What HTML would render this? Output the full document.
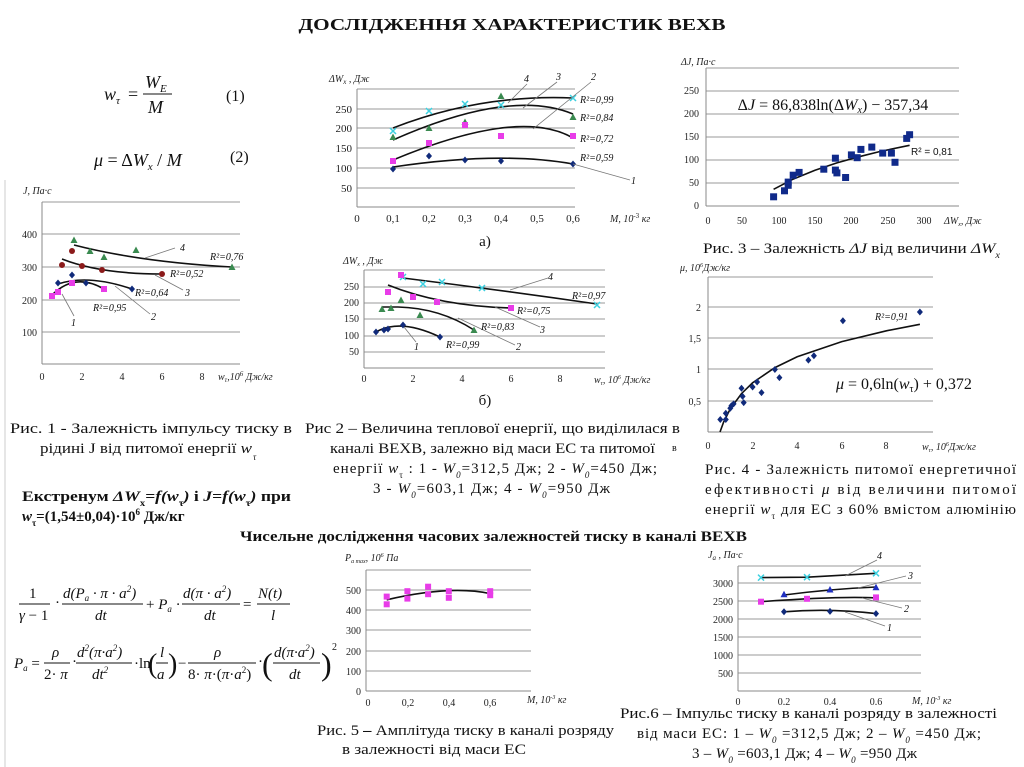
<!DOCTYPE html>
<html><head><meta charset="utf-8"><style>
html,body{margin:0;padding:0;background:#fff}
svg{display:block}
text{font-family:"Liberation Serif",serif;fill:#111}
.t{font-size:11px;fill:#222}
.tk{font-size:10px;fill:#222}
.ax{font-size:10px;font-style:italic;fill:#222}
.cap{font-size:15px}
.g{stroke:#999;stroke-width:1;fill:none}
.a{stroke:#888;stroke-width:1;fill:none}
.c{stroke:#111;stroke-width:1.6;fill:none}
.l{stroke:#777;stroke-width:0.8;fill:none}
.r{font-size:10px;font-style:italic}
</style></head><body>
<svg width="1024" height="767" viewBox="0 0 1024 767" xmlns="http://www.w3.org/2000/svg">
<defs>
<rect id="sq" x="-3" y="-3" width="6" height="6" fill="#e83ce8"/>
<path id="dm" d="M0,-3.5L3,0L0,3.5L-3,0Z" fill="#102a7a"/>
<path id="tr" d="M0,-3.5L3.5,3L-3.5,3Z" fill="#3a8a50"/>
<path id="trb" d="M0,-3.5L3.5,3L-3.5,3Z" fill="#1f2fc0"/>
<circle id="ci" r="3" fill="#8b1a1a"/>
<path id="xx" d="M-3,-3L3,3M3,-3L-3,3" stroke="#3cd0e0" stroke-width="1.5"/>
<rect id="bs" x="-3.5" y="-3.5" width="7" height="7" fill="#102a8a"/>
</defs>
<line x1="5" y1="180" x2="5" y2="767" stroke="#ccc"/>

<text x="512" y="30" text-anchor="middle" font-weight="bold" font-size="17" textLength="427" lengthAdjust="spacingAndGlyphs">ДОСЛІДЖЕННЯ ХАРАКТЕРИСТИК ВЕХВ</text>

<!-- formulas 1,2 -->
<text x="104" y="100" font-size="18" font-style="italic">w<tspan font-size="11" dy="4">τ</tspan></text>
<text x="128" y="100" font-size="18">=</text>
<text x="145" y="88" font-size="18" font-style="italic">W<tspan font-size="11" dy="4">E</tspan></text>
<line x1="143" y1="94" x2="172" y2="94" stroke="#111" stroke-width="1"/>
<text x="148" y="113" font-size="18" font-style="italic">M</text>
<text x="226" y="101" font-size="16">(1)</text>
<text x="94" y="166" font-size="18"><tspan font-style="italic">μ</tspan>  = Δ<tspan font-style="italic">W</tspan><tspan font-size="11" dy="4" font-style="italic">x</tspan><tspan dy="-4"> / </tspan><tspan font-style="italic">M</tspan></text>
<text x="230" y="162" font-size="16">(2)</text>

<!-- Chart 1 -->
<g>
<line class="g" x1="42" y1="202" x2="240" y2="202"/>
<line class="g" x1="42" y1="234" x2="240" y2="234"/>
<line class="g" x1="42" y1="267" x2="240" y2="267"/>
<line class="g" x1="42" y1="300" x2="240" y2="300"/>
<line class="g" x1="42" y1="332" x2="240" y2="332"/>
<line class="a" x1="42" y1="202" x2="42" y2="364"/>
<line class="a" x1="42" y1="364" x2="240" y2="364"/>
<text class="tk" x="37" y="238" text-anchor="end">400</text>
<text class="tk" x="37" y="271" text-anchor="end">300</text>
<text class="tk" x="37" y="304" text-anchor="end">200</text>
<text class="tk" x="37" y="336" text-anchor="end">100</text>
<text class="tk" x="42" y="380" text-anchor="middle">0</text>
<text class="tk" x="82" y="380" text-anchor="middle">2</text>
<text class="tk" x="122" y="380" text-anchor="middle">4</text>
<text class="tk" x="162" y="380" text-anchor="middle">6</text>
<text class="tk" x="202" y="380" text-anchor="middle">8</text>
<text class="ax" x="23" y="194">J, Па·с</text>
<text class="ax" x="218" y="380">w<tspan font-size="7" dy="2">τ</tspan><tspan dy="-2">,10</tspan><tspan font-size="7" dy="-4">6</tspan><tspan dy="4"> Дж/кг</tspan></text>
<path class="c" d="M74,245 Q140,262 232,267"/>
<path class="c" d="M62,259 Q100,274 162,274"/>
<path class="c" d="M58,284 Q88,274 132,289"/>
<path class="c" d="M52,295 Q75,272 104,289"/>
<use href="#tr" x="74" y="240"/><use href="#tr" x="90" y="251"/><use href="#tr" x="104" y="257"/><use href="#tr" x="136" y="250"/><use href="#tr" x="232" y="267"/>
<use href="#ci" x="62" y="265"/><use href="#ci" x="72" y="251"/><use href="#ci" x="82" y="266"/><use href="#ci" x="102" y="270"/><use href="#ci" x="162" y="274"/>
<use href="#dm" x="58" y="283"/><use href="#dm" x="72" y="275"/><use href="#dm" x="86" y="283"/><use href="#dm" x="132" y="289"/>
<use href="#sq" x="52" y="296"/><use href="#sq" x="58" y="292"/><use href="#sq" x="72" y="283"/><use href="#sq" x="104" y="289"/>
<path class="l" d="M145,258 L175,248"/><path class="l" d="M155,275 L183,290"/><path class="l" d="M115,286 L150,314"/><path class="l" d="M62,294 L74,316"/>
<text class="r" x="180" y="251">4</text><text class="r" x="185" y="296">3</text><text class="r" x="151" y="320">2</text><text class="r" x="71" y="326">1</text>
<text class="r" x="210" y="260">R²=0,76</text><text class="r" x="170" y="277">R²=0,52</text><text class="r" x="135" y="296">R²=0,64</text><text class="r" x="93" y="311">R²=0,95</text>
</g>

<!-- Chart 2a -->
<g>
<line class="g" x1="357" y1="89" x2="575" y2="89"/>
<line class="g" x1="357" y1="109" x2="575" y2="109"/>
<line class="g" x1="357" y1="128" x2="575" y2="128"/>
<line class="g" x1="357" y1="148" x2="575" y2="148"/>
<line class="g" x1="357" y1="168" x2="575" y2="168"/>
<line class="g" x1="357" y1="188" x2="575" y2="188"/>
<line class="a" x1="357" y1="89" x2="357" y2="207"/>
<line class="a" x1="357" y1="207" x2="575" y2="207"/>
<text class="t" x="352" y="113" text-anchor="end">250</text>
<text class="t" x="352" y="132" text-anchor="end">200</text>
<text class="t" x="352" y="152" text-anchor="end">150</text>
<text class="t" x="352" y="172" text-anchor="end">100</text>
<text class="t" x="352" y="192" text-anchor="end">50</text>
<text class="t" x="357" y="222" text-anchor="middle">0</text>
<text class="t" x="393" y="222" text-anchor="middle">0,1</text>
<text class="t" x="429" y="222" text-anchor="middle">0,2</text>
<text class="t" x="465" y="222" text-anchor="middle">0,3</text>
<text class="t" x="501" y="222" text-anchor="middle">0,4</text>
<text class="t" x="537" y="222" text-anchor="middle">0,5</text>
<text class="t" x="573" y="222" text-anchor="middle">0,6</text>
<text class="ax" x="329" y="82">ΔW<tspan font-size="7" dy="2">x</tspan><tspan dy="-2"> , Дж</tspan></text>
<text class="ax" x="610" y="222">M,  10<tspan font-size="7" dy="-4" font-style="normal">-3</tspan><tspan dy="4"> кг</tspan></text>
<path class="c" d="M393,128 Q480,94 573,98"/>
<path class="c" d="M393,140 Q510,88 573,114"/>
<path class="c" d="M393,160 Q520,107 573,138"/>
<path class="c" d="M393,167 Q500,151 573,164"/>
<use href="#xx" x="393" y="131"/><use href="#xx" x="429" y="111"/><use href="#xx" x="465" y="104"/><use href="#xx" x="501" y="105"/><use href="#xx" x="573" y="98"/>
<use href="#tr" x="393" y="137"/><use href="#tr" x="429" y="128"/><use href="#tr" x="465" y="122"/><use href="#tr" x="501" y="96"/><use href="#tr" x="573" y="117"/>
<use href="#sq" x="393" y="161"/><use href="#sq" x="429" y="143"/><use href="#sq" x="465" y="125"/><use href="#sq" x="501" y="136"/><use href="#sq" x="573" y="136"/>
<use href="#dm" x="393" y="169"/><use href="#dm" x="429" y="156"/><use href="#dm" x="465" y="160"/><use href="#dm" x="501" y="161"/><use href="#dm" x="573" y="164"/>
<path class="l" d="M508,103 L527,84"/><path class="l" d="M523,108 L557,82"/><path class="l" d="M533,129 L591,82"/><path class="l" d="M573,164 L630,180"/>
<text class="r" x="524" y="82" font-size="11">4</text><text class="r" x="556" y="80" font-size="11">3</text><text class="r" x="591" y="80" font-size="11">2</text><text class="r" x="631" y="184" font-size="11">1</text>
<text class="r" x="580" y="103">R²=0,99</text><text class="r" x="580" y="121">R²=0,84</text><text class="r" x="580" y="142">R²=0,72</text><text class="r" x="580" y="161">R²=0,59</text>
<text x="485" y="246" font-size="15" text-anchor="middle">а)</text>
</g>

<!-- Chart 2b -->
<g>
<line class="g" x1="364" y1="270" x2="605" y2="270"/>
<line class="g" x1="364" y1="287" x2="605" y2="287"/>
<line class="g" x1="364" y1="303" x2="605" y2="303"/>
<line class="g" x1="364" y1="319" x2="605" y2="319"/>
<line class="g" x1="364" y1="336" x2="605" y2="336"/>
<line class="g" x1="364" y1="352" x2="605" y2="352"/>
<line class="a" x1="364" y1="270" x2="364" y2="368"/>
<line class="a" x1="364" y1="368" x2="605" y2="368"/>
<text class="tk" x="359" y="290" text-anchor="end">250</text>
<text class="tk" x="359" y="306" text-anchor="end">200</text>
<text class="tk" x="359" y="322" text-anchor="end">150</text>
<text class="tk" x="359" y="339" text-anchor="end">100</text>
<text class="tk" x="359" y="355" text-anchor="end">50</text>
<text class="tk" x="364" y="382" text-anchor="middle">0</text>
<text class="tk" x="413" y="382" text-anchor="middle">2</text>
<text class="tk" x="462" y="382" text-anchor="middle">4</text>
<text class="tk" x="511" y="382" text-anchor="middle">6</text>
<text class="tk" x="560" y="382" text-anchor="middle">8</text>
<text class="ax" x="343" y="264" font-size="9">ΔW<tspan font-size="6" dy="2">x</tspan><tspan dy="-2"> , Дж</tspan></text>
<text class="ax" x="594" y="383" font-size="9">w<tspan font-size="6" dy="2">τ</tspan><tspan dy="-2">, 10</tspan><tspan font-size="6" dy="-4">6</tspan><tspan dy="4"> Дж/кг</tspan></text>
<path class="c" d="M403,278 Q500,290 597,304"/>
<path class="c" d="M388,285 Q440,306 511,308"/>
<path class="c" d="M382,307 L398,307 Q440,308 474,330"/>
<path class="c" d="M376,332 Q400,318 440,337"/>
<use href="#xx" x="403" y="277"/><use href="#xx" x="423" y="284"/><use href="#xx" x="442" y="282"/><use href="#xx" x="482" y="288"/><use href="#xx" x="597" y="305"/>
<use href="#sq" x="401" y="275"/><use href="#sq" x="388" y="292"/><use href="#sq" x="413" y="297"/><use href="#sq" x="437" y="302"/><use href="#sq" x="511" y="308"/>
<use href="#tr" x="382" y="309"/><use href="#tr" x="391" y="308"/><use href="#tr" x="401" y="300"/><use href="#tr" x="420" y="315"/><use href="#tr" x="474" y="330"/>
<use href="#dm" x="376" y="332"/><use href="#dm" x="384" y="330"/><use href="#dm" x="388" y="329"/><use href="#dm" x="403" y="325"/><use href="#dm" x="440" y="337"/>
<path class="l" d="M510,290 L548,278"/><path class="l" d="M495,307 L540,327"/><path class="l" d="M458,318 L515,345"/><path class="l" d="M404,327 L416,342"/>
<text class="r" x="548" y="280">4</text><text class="r" x="540" y="333">3</text><text class="r" x="516" y="350">2</text><text class="r" x="414" y="350">1</text>
<text class="r" x="572" y="299" font-size="9">R²=0,97</text><text class="r" x="517" y="314" font-size="9">R²=0,75</text><text class="r" x="481" y="330" font-size="9">R²=0,83</text><text class="r" x="446" y="348" font-size="9">R²=0,99</text>
<text x="485" y="405" font-size="15" text-anchor="middle">б)</text>
</g>

<!-- Chart 3 -->
<g>
<line class="g" x1="706" y1="68" x2="959" y2="68"/>
<line class="g" x1="706" y1="91" x2="959" y2="91"/>
<line class="g" x1="706" y1="114" x2="959" y2="114"/>
<line class="g" x1="706" y1="137" x2="959" y2="137"/>
<line class="g" x1="706" y1="160" x2="959" y2="160"/>
<line class="g" x1="706" y1="183" x2="959" y2="183"/>
<line class="a" x1="706" y1="68" x2="706" y2="206"/>
<line class="a" x1="706" y1="206" x2="959" y2="206"/>
<text class="tk" x="699" y="94" text-anchor="end">250</text>
<text class="tk" x="699" y="117" text-anchor="end">200</text>
<text class="tk" x="699" y="140" text-anchor="end">150</text>
<text class="tk" x="699" y="163" text-anchor="end">100</text>
<text class="tk" x="699" y="186" text-anchor="end">50</text>
<text class="tk" x="699" y="209" text-anchor="end">0</text>
<text class="tk" x="708" y="224" text-anchor="middle">0</text>
<text class="tk" x="742" y="224" text-anchor="middle">50</text>
<text class="tk" x="779" y="224" text-anchor="middle">100</text>
<text class="tk" x="815" y="224" text-anchor="middle">150</text>
<text class="tk" x="851" y="224" text-anchor="middle">200</text>
<text class="tk" x="888" y="224" text-anchor="middle">250</text>
<text class="tk" x="924" y="224" text-anchor="middle">300</text>
<text class="ax" x="681" y="65" font-size="9">ΔJ, Па·с</text>
<text class="ax" x="944" y="224" font-size="9">ΔW<tspan font-size="6" dy="2">x</tspan><tspan dy="-2">, Дж</tspan></text>
<text x="833" y="110" font-size="16" text-anchor="middle">Δ<tspan font-style="italic">J</tspan> = 86,838ln(Δ<tspan font-style="italic">W</tspan><tspan font-size="10" dy="3" font-style="italic">x</tspan><tspan dy="-3">) − 357,34</tspan></text>
<text x="911" y="155" font-size="10" style="font-family:'Liberation Sans',sans-serif">R² = 0,81</text>
<path class="c" d="M773.6,189.3 L793.2,179.1 L815,170.2 L836.9,162.9 L858.7,156.8 L880.5,151.4 L909.6,145.3"/>
<use href="#bs" x="773.6" y="196.8"/><use href="#bs" x="784.5" y="190.8"/><use href="#bs" x="788.2" y="182.1"/><use href="#bs" x="788.2" y="185.3"/><use href="#bs" x="793.2" y="175.2"/><use href="#bs" x="799.1" y="172.4"/><use href="#bs" x="823.8" y="169.2"/><use href="#bs" x="835.4" y="158.2"/><use href="#bs" x="835.4" y="170.1"/><use href="#bs" x="836.9" y="172.9"/><use href="#bs" x="845.6" y="177.5"/><use href="#bs" x="851.4" y="154.9"/><use href="#bs" x="857.2" y="157.7"/><use href="#bs" x="860.9" y="149.4"/><use href="#bs" x="871.8" y="147.1"/><use href="#bs" x="882.7" y="153.1"/><use href="#bs" x="891.4" y="153.1"/><use href="#bs" x="895" y="162.3"/><use href="#bs" x="906.7" y="138.4"/><use href="#bs" x="909.6" y="134.7"/>
<text class="cap" x="703" y="253" textLength="297" lengthAdjust="spacingAndGlyphs">Рис. 3  – Залежність <tspan font-style="italic">ΔJ</tspan> від величини <tspan font-style="italic">ΔW</tspan><tspan font-size="9" dy="5" font-style="italic">x</tspan></text>
</g>

<!-- Chart 4 -->
<g>
<line class="g" x1="708" y1="277" x2="933" y2="277"/>
<line class="g" x1="708" y1="307" x2="933" y2="307"/>
<line class="g" x1="708" y1="338" x2="933" y2="338"/>
<line class="g" x1="708" y1="369" x2="933" y2="369"/>
<line class="g" x1="708" y1="401" x2="933" y2="401"/>
<line class="a" x1="708" y1="277" x2="708" y2="432"/>
<line class="a" x1="708" y1="432" x2="933" y2="432"/>
<text class="tk" x="701" y="311" text-anchor="end">2</text>
<text class="tk" x="701" y="342" text-anchor="end">1,5</text>
<text class="tk" x="701" y="373" text-anchor="end">1</text>
<text class="tk" x="701" y="405" text-anchor="end">0,5</text>
<text class="tk" x="708" y="449" text-anchor="middle">0</text>
<text class="tk" x="753" y="449" text-anchor="middle">2</text>
<text class="tk" x="797" y="449" text-anchor="middle">4</text>
<text class="tk" x="842" y="449" text-anchor="middle">6</text>
<text class="tk" x="886" y="449" text-anchor="middle">8</text>
<text x="672" y="451" font-size="10">в</text>
<text class="ax" x="680" y="271" font-size="9">μ, 10<tspan font-size="6" dy="-4">6</tspan><tspan dy="4">Дж/кг</tspan></text>
<text class="ax" x="922" y="450" font-size="9">w<tspan font-size="6" dy="2">τ</tspan><tspan dy="-2">,  10</tspan><tspan font-size="6" dy="-4">6</tspan><tspan dy="4">Дж/кг</tspan></text>
<text x="836" y="389" font-size="16"><tspan font-style="italic">μ</tspan> = 0,6ln(<tspan font-style="italic">w</tspan><tspan font-size="10" dy="3">τ</tspan><tspan dy="-3">) + 0,372</tspan></text>
<text class="r" x="875" y="320" font-size="9">R²=0,91</text>
<path class="c" d="M720,432 L723.6,422.1 L730.3,408.8 L741.5,393.6 L752.6,382.8 L774.9,367.6 L797.2,356.8 L841.8,341.6 L886.4,330.8 L919.9,324.3"/>
<use href="#dm" x="720.3" y="419.5"/><use href="#dm" x="725.8" y="413.3"/><use href="#dm" x="725.8" y="419.5"/><use href="#dm" x="730.3" y="408.3"/><use href="#dm" x="731.4" y="405.8"/><use href="#dm" x="733.6" y="403.9"/><use href="#dm" x="741.5" y="388.3"/><use href="#dm" x="742.6" y="396.4"/><use href="#dm" x="743.7" y="402.6"/><use href="#dm" x="752.6" y="387"/><use href="#dm" x="757.1" y="382"/><use href="#dm" x="761.5" y="392.6"/><use href="#dm" x="774.9" y="369.5"/><use href="#dm" x="779.4" y="377.6"/><use href="#dm" x="808.4" y="360.1"/><use href="#dm" x="813.9" y="355.8"/><use href="#dm" x="842.9" y="320.8"/><use href="#dm" x="919.9" y="312"/>
</g>

<!-- Captions -->
<text class="cap" x="10" y="433" textLength="282" lengthAdjust="spacingAndGlyphs">Рис. 1 - Залежність імпульсу тиску в</text>
<text class="cap" x="40" y="453" textLength="212" lengthAdjust="spacingAndGlyphs">рідині J від питомої енергії <tspan font-style="italic">w</tspan></text>
<text x="253" y="460" font-size="9" font-style="italic">τ</text>
<text class="cap" x="305" y="433" textLength="375" lengthAdjust="spacingAndGlyphs">Рис 2 – Величина теплової енергії, що виділилася в</text>
<text class="cap" x="330" y="453" textLength="325" lengthAdjust="spacingAndGlyphs">каналі ВЕХВ, залежно від маси ЕС та питомої</text>
<text class="cap" x="333" y="473" textLength="324" lengthAdjust="spacing">енергії  <tspan font-style="italic">w</tspan><tspan font-size="9" dy="5">τ</tspan><tspan dy="-5"> : 1 - </tspan><tspan font-style="italic">W</tspan><tspan font-size="9" dy="5" font-style="italic">0</tspan><tspan dy="-5">=312,5 Дж; 2 - </tspan><tspan font-style="italic">W</tspan><tspan font-size="9" dy="5" font-style="italic">0</tspan><tspan dy="-5">=450 Дж;</tspan></text>
<text class="cap" x="373" y="493" textLength="237" lengthAdjust="spacing">3 - <tspan font-style="italic">W</tspan><tspan font-size="9" dy="5" font-style="italic">0</tspan><tspan dy="-5">=603,1 Дж; 4 - </tspan><tspan font-style="italic">W</tspan><tspan font-size="9" dy="5" font-style="italic">0</tspan><tspan dy="-5">=950 Дж</tspan></text>
<text class="cap" x="705" y="474" textLength="311" lengthAdjust="spacing">Рис. 4 - Залежність питомої енергетичної</text>
<text class="cap" x="705" y="494" textLength="311" lengthAdjust="spacing">ефективності    <tspan font-style="italic">μ</tspan>  від  величини  питомої</text>
<text class="cap" x="705" y="514" textLength="311" lengthAdjust="spacing">енергії <tspan font-style="italic">w</tspan><tspan font-size="9" dy="5">τ</tspan><tspan dy="-5"> для ЕС з 60% вмістом алюмінію</tspan></text>

<text class="cap" x="22" y="501" font-weight="bold" textLength="269" lengthAdjust="spacingAndGlyphs">Екстренум <tspan font-style="italic">ΔW</tspan><tspan font-size="9" dy="5">x</tspan><tspan dy="-5" font-style="italic">=f(w</tspan><tspan font-size="9" dy="5">τ</tspan><tspan dy="-5" font-style="italic">)</tspan> і <tspan font-style="italic">J=f(w</tspan><tspan font-size="9" dy="5">τ</tspan><tspan dy="-5" font-style="italic">)</tspan> при</text>
<text class="cap" x="22" y="521" font-weight="bold"><tspan font-style="italic">w</tspan><tspan font-size="9" dy="5">τ</tspan><tspan dy="-5">=(1,54±0,04)·10</tspan><tspan font-size="9" dy="-6">6</tspan><tspan dy="6"> Дж/кг</tspan></text>
<text class="cap" x="240" y="541" font-weight="bold" textLength="507" lengthAdjust="spacingAndGlyphs">Чисельне дослідження часових залежностей тиску в каналі ВЕХВ</text>

<!-- bottom-left formulas -->
<g font-size="15">
<text x="29" y="598">1</text>
<line x1="19" y1="604" x2="50" y2="604" stroke="#111"/>
<text x="19" y="620" font-style="italic">γ <tspan font-style="normal">− 1</tspan></text>
<text x="55" y="607">·</text>
<text x="63" y="598" font-style="italic">d(P<tspan font-size="9" dy="3">a</tspan><tspan dy="-3"> · π · a</tspan><tspan font-size="9" dy="-6">2</tspan><tspan dy="6">)</tspan></text>
<line x1="62" y1="604" x2="143" y2="604" stroke="#111"/>
<text x="95" y="620" font-style="italic">dt</text>
<text x="146" y="609">+ <tspan font-style="italic">P</tspan><tspan font-size="9" dy="3" font-style="italic">a</tspan><tspan dy="-3"> ·</tspan></text>
<text x="183" y="598" font-style="italic">d(π · a<tspan font-size="9" dy="-6">2</tspan><tspan dy="6">)</tspan></text>
<line x1="182" y1="604" x2="240" y2="604" stroke="#111"/>
<text x="204" y="620" font-style="italic">dt</text>
<text x="243" y="609">=</text>
<text x="258" y="598" font-style="italic">N(t)</text>
<line x1="257" y1="604" x2="290" y2="604" stroke="#111"/>
<text x="271" y="620" font-style="italic">l</text>

<text x="14" y="668" font-style="italic">P<tspan font-size="9" dy="3">a</tspan><tspan dy="-3" font-style="normal"> =</tspan></text>
<text x="52" y="657" font-style="italic">ρ</text>
<line x1="44" y1="663" x2="70" y2="663" stroke="#111"/>
<text x="44" y="679">2· <tspan font-style="italic">π</tspan></text>
<text x="72" y="666">·</text>
<text x="77" y="657" font-style="italic">d<tspan font-size="9" dy="-6">2</tspan><tspan dy="6">(π·a</tspan><tspan font-size="9" dy="-6">2</tspan><tspan dy="6">)</tspan></text>
<line x1="76" y1="663" x2="132" y2="663" stroke="#111"/>
<text x="92" y="679" font-style="italic">dt<tspan font-size="9" dy="-6">2</tspan></text>
<text x="134" y="668">·ln</text>
<text x="148" y="673" font-size="28">(</text>
<text x="160" y="657" font-style="italic">l</text>
<line x1="156" y1="663" x2="168" y2="663" stroke="#111"/>
<text x="157" y="679" font-style="italic">a</text>
<text x="168" y="673" font-size="28">)</text>
<text x="178" y="668">−</text>
<text x="214" y="657" font-style="italic">ρ</text>
<line x1="188" y1="663" x2="256" y2="663" stroke="#111"/>
<text x="188" y="679">8· <tspan font-style="italic">π</tspan>·(<tspan font-style="italic">π</tspan>·<tspan font-style="italic">a</tspan><tspan font-size="9" dy="-6">2</tspan><tspan dy="6">)</tspan></text>
<text x="258" y="666">·</text>
<text x="262" y="675" font-size="32">(</text>
<text x="274" y="657" font-style="italic">d(π·a<tspan font-size="9" dy="-6">2</tspan><tspan dy="6">)</tspan></text>
<line x1="273" y1="663" x2="320" y2="663" stroke="#111"/>
<text x="289" y="679" font-style="italic">dt</text>
<text x="321" y="675" font-size="32">)</text>
<text x="332" y="650" font-size="10">2</text>
</g>

<!-- Chart 5 -->
<g>
<line class="g" x1="366" y1="570" x2="531" y2="570"/>
<line class="g" x1="366" y1="590" x2="531" y2="590"/>
<line class="g" x1="366" y1="610" x2="531" y2="610"/>
<line class="g" x1="366" y1="630" x2="531" y2="630"/>
<line class="g" x1="366" y1="651" x2="531" y2="651"/>
<line class="g" x1="366" y1="671" x2="531" y2="671"/>
<line class="a" x1="366" y1="570" x2="366" y2="691"/>
<line class="a" x1="366" y1="691" x2="531" y2="691"/>
<text class="tk" x="361" y="594" text-anchor="end">500</text>
<text class="tk" x="361" y="614" text-anchor="end">400</text>
<text class="tk" x="361" y="634" text-anchor="end">300</text>
<text class="tk" x="361" y="655" text-anchor="end">200</text>
<text class="tk" x="361" y="675" text-anchor="end">100</text>
<text class="tk" x="361" y="695" text-anchor="end">0</text>
<text class="tk" x="368" y="706" text-anchor="middle">0</text>
<text class="tk" x="408" y="706" text-anchor="middle">0,2</text>
<text class="tk" x="449" y="706" text-anchor="middle">0,4</text>
<text class="tk" x="490" y="706" text-anchor="middle">0,6</text>
<text class="ax" x="345" y="561" font-size="9">P<tspan font-size="6" dy="2">a max</tspan><tspan dy="-2">,  10</tspan><tspan font-size="6" dy="-4">6</tspan><tspan dy="4"> Па</tspan></text>
<text class="ax" x="527" y="703" font-size="9">M,  10<tspan font-size="6" dy="-4">-3</tspan><tspan dy="4"> кг</tspan></text>
<path class="c" d="M386.7,599.8 Q450,585 490.2,593.6"/>
<use href="#sq" x="386.7" y="596.6"/><use href="#sq" x="386.7" y="604.3"/><use href="#sq" x="407.4" y="591.2"/><use href="#sq" x="407.4" y="598.6"/><use href="#sq" x="428.1" y="586.7"/><use href="#sq" x="428.1" y="594.2"/><use href="#sq" x="448.8" y="591.2"/><use href="#sq" x="448.8" y="597.8"/><use href="#sq" x="490.2" y="591.2"/><use href="#sq" x="490.2" y="595.2"/>
</g>

<!-- Chart 6 -->
<g>
<line class="g" x1="738" y1="566" x2="921" y2="566"/>
<line class="g" x1="738" y1="583" x2="921" y2="583"/>
<line class="g" x1="738" y1="601" x2="921" y2="601"/>
<line class="g" x1="738" y1="619" x2="921" y2="619"/>
<line class="g" x1="738" y1="637" x2="921" y2="637"/>
<line class="g" x1="738" y1="655" x2="921" y2="655"/>
<line class="g" x1="738" y1="673" x2="921" y2="673"/>
<line class="a" x1="738" y1="566" x2="738" y2="691"/>
<line class="a" x1="738" y1="691" x2="921" y2="691"/>
<text class="tk" x="733" y="587" text-anchor="end">3000</text>
<text class="tk" x="733" y="605" text-anchor="end">2500</text>
<text class="tk" x="733" y="623" text-anchor="end">2000</text>
<text class="tk" x="733" y="641" text-anchor="end">1500</text>
<text class="tk" x="733" y="659" text-anchor="end">1000</text>
<text class="tk" x="733" y="677" text-anchor="end">500</text>
<text class="tk" x="738" y="705" text-anchor="middle">0</text>
<text class="tk" x="784" y="705" text-anchor="middle">0.2</text>
<text class="tk" x="830" y="705" text-anchor="middle">0.4</text>
<text class="tk" x="876" y="705" text-anchor="middle">0.6</text>
<text class="ax" x="708" y="558">J<tspan font-size="7" dy="2">a</tspan><tspan dy="-2"> , Па·с</tspan></text>
<text class="ax" x="912" y="704" font-size="9">M,  10<tspan font-size="6" dy="-4">-3</tspan><tspan dy="4"> кг</tspan></text>
<path class="c" d="M761,577.6 L807,577.2 L876,573.3"/>
<path class="c" d="M784,595 Q830,589 876,587"/>
<path class="c" d="M761,601.7 Q840,596 876,598"/>
<path class="c" d="M784,611.8 Q830,608 876,613.6"/>
<use href="#xx" x="761" y="577.6"/><use href="#xx" x="807" y="577.2"/><use href="#xx" x="876" y="573.3"/>
<use href="#trb" x="784" y="594.2"/><use href="#trb" x="830" y="589.5"/><use href="#trb" x="876" y="587.3"/>
<use href="#sq" x="761" y="601.7"/><use href="#sq" x="807" y="598.8"/><use href="#sq" x="876" y="597.4"/>
<use href="#dm" x="784" y="611.8"/><use href="#dm" x="830" y="611.4"/><use href="#dm" x="876" y="613.6"/>
<path class="l" d="M845,576 L877,560"/><path class="l" d="M858,588 L906,576"/><path class="l" d="M862,598 L902,608"/><path class="l" d="M845,612 L885,626"/>
<text class="r" x="877" y="559" font-size="11">4</text><text class="r" x="908" y="579" font-size="11">3</text><text class="r" x="904" y="612" font-size="11">2</text><text class="r" x="887" y="631" font-size="11">1</text>
</g>

<text class="cap" x="317" y="735" textLength="297" lengthAdjust="spacingAndGlyphs">Рис. 5 <tspan font-weight="bold">–</tspan> Амплітуда тиску в каналі розряду</text>
<text class="cap" x="342" y="754" textLength="184" lengthAdjust="spacingAndGlyphs">в залежності від маси ЕС</text>
<text class="cap" x="620" y="718" textLength="377" lengthAdjust="spacingAndGlyphs">Рис.6 – Імпульс тиску в каналі розряду в залежності</text>
<text class="cap" x="637" y="738" textLength="344" lengthAdjust="spacing">від маси ЕС: 1 – <tspan font-style="italic">W</tspan><tspan font-size="9" dy="5" font-style="italic">0</tspan><tspan dy="-5"> =312,5 Дж; 2 – </tspan><tspan font-style="italic">W</tspan><tspan font-size="9" dy="5" font-style="italic">0</tspan><tspan dy="-5"> =450 Дж;</tspan></text>
<text class="cap" x="692" y="758" textLength="225" lengthAdjust="spacing">3 – <tspan font-style="italic">W</tspan><tspan font-size="9" dy="5" font-style="italic">0</tspan><tspan dy="-5"> =603,1 Дж; 4 – </tspan><tspan font-style="italic">W</tspan><tspan font-size="9" dy="5" font-style="italic">0</tspan><tspan dy="-5"> =950 Дж</tspan></text>
</svg>
</body></html>
